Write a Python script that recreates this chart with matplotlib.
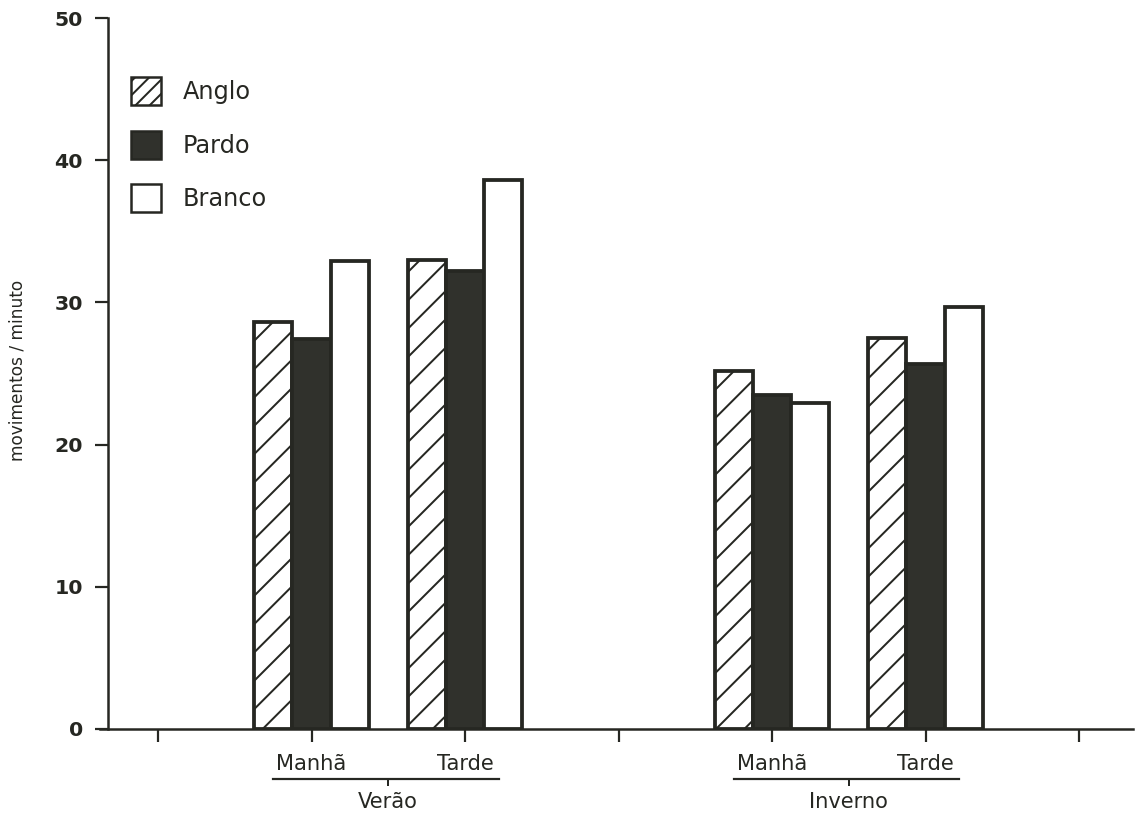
import matplotlib
matplotlib.use('Agg')
import matplotlib.pyplot as plt
import numpy as np
from matplotlib.patches import Patch

# high dpi so the default hatch spacing comes out as sparse as in the scan
DPI = 170
W_PX, H_PX = 1142, 818


def px(v):
    # pixel size -> points
    return v * 72 / DPI


seasons = ['Verão', 'Inverno']
periods = ['Manhã', 'Tarde']
breeds = ['Anglo', 'Pardo', 'Branco']
anglo = [28.6, 33.0, 25.2, 27.5]
pardo = [27.4, 32.2, 23.5, 25.7]
branco = [32.9, 38.6, 22.9, 29.7]
group_pos = [1, 2, 4, 5]
season_pos = [1.5, 4.5]
y_ticks = [0, 10, 20, 30, 40, 50]

INK = '#262722'
DARK = '#30312c'

plt.rcParams['font.family'] = ['DejaVu Sans']
plt.rcParams['hatch.color'] = INK
plt.rcParams['hatch.linewidth'] = px(2)

fig = plt.figure(figsize=(W_PX / DPI, H_PX / DPI), dpi=DPI, facecolor='white')
# axes box in pixel terms: x-axis 100..1133, y 0 at 729, 50 at 18
ax = fig.add_axes([100 / W_PX, 1 - 729 / H_PX, 1033 / W_PX, 711 / H_PX])
ax.set_facecolor('white')

w = 0.248
x = np.array(group_pos, dtype=float)
bar_style = dict(edgecolor=INK, linewidth=px(3.8), zorder=3)
ax.bar(x - w, anglo, w, facecolor='white', hatch='//', **bar_style)
ax.bar(x, pardo, w, facecolor=DARK, **bar_style)
ax.bar(x + w, branco, w, facecolor='white', **bar_style)

tick_px = 153.5  # one x unit in pixels
ax.set_xlim((100 - 158) / tick_px, (1133 - 158) / tick_px)
ax.set_ylim(0, 50)
ax.spines[['top', 'right']].set_visible(False)
ax.spines['left'].set_position(('data', (108 - 158) / tick_px))
for s in ax.spines.values():
    s.set_linewidth(px(2.5))
    s.set_color(INK)

ax.set_xticks(np.arange(0, 7))
ax.set_xticklabels([])
ax.set_yticks(y_ticks)
ax.tick_params(axis='both', length=px(13), width=px(2.2), color=INK, direction='out')
ax.tick_params(axis='y', labelsize=px(20.5), labelcolor=INK, pad=px(12))
for lab in ax.get_yticklabels():
    lab.set_fontweight('bold')

handles = [
    Patch(facecolor='white', edgecolor=INK, hatch='////', linewidth=px(2.5)),
    Patch(facecolor=DARK, edgecolor=INK, linewidth=px(2.5)),
    Patch(facecolor='white', edgecolor=INK, linewidth=px(2.5)),
]
ax.legend(handles, breeds, loc='upper left',
          bbox_to_anchor=(131 / W_PX, 1 - 77 / H_PX), bbox_transform=fig.transFigure,
          frameon=False, fontsize=px(24), handlelength=1.25, handleheight=1.42,
          handletextpad=0.9, labelspacing=1.07, borderpad=0, borderaxespad=0,
          labelcolor=INK)


def ya(y):
    # pixel row -> axes fraction
    return (729 - y) / 711


tr = ax.get_xaxis_transform()
for pos, per in zip(group_pos, periods * 2):
    ax.text(pos, ya(764), per, ha='center', va='center', fontsize=px(21),
            color=INK, transform=tr, clip_on=False)

for c, season in zip(season_pos, seasons):
    ax.plot([c - 0.75, c + 0.72], [ya(779)] * 2, transform=tr, clip_on=False,
            color=INK, lw=px(2.2))
    ax.plot([c, c], [ya(779), ya(785)], transform=tr, clip_on=False,
            color=INK, lw=px(2))
    ax.text(c, ya(802), season, ha='center', va='center', fontsize=px(21),
            color=INK, transform=tr, clip_on=False)

fig.text(18 / W_PX, 1 - 370 / H_PX, 'movimentos / minuto', rotation=90,
         ha='center', va='center', fontsize=px(17), color=INK)

fig.savefig('out.png', dpi=DPI, facecolor='white')
